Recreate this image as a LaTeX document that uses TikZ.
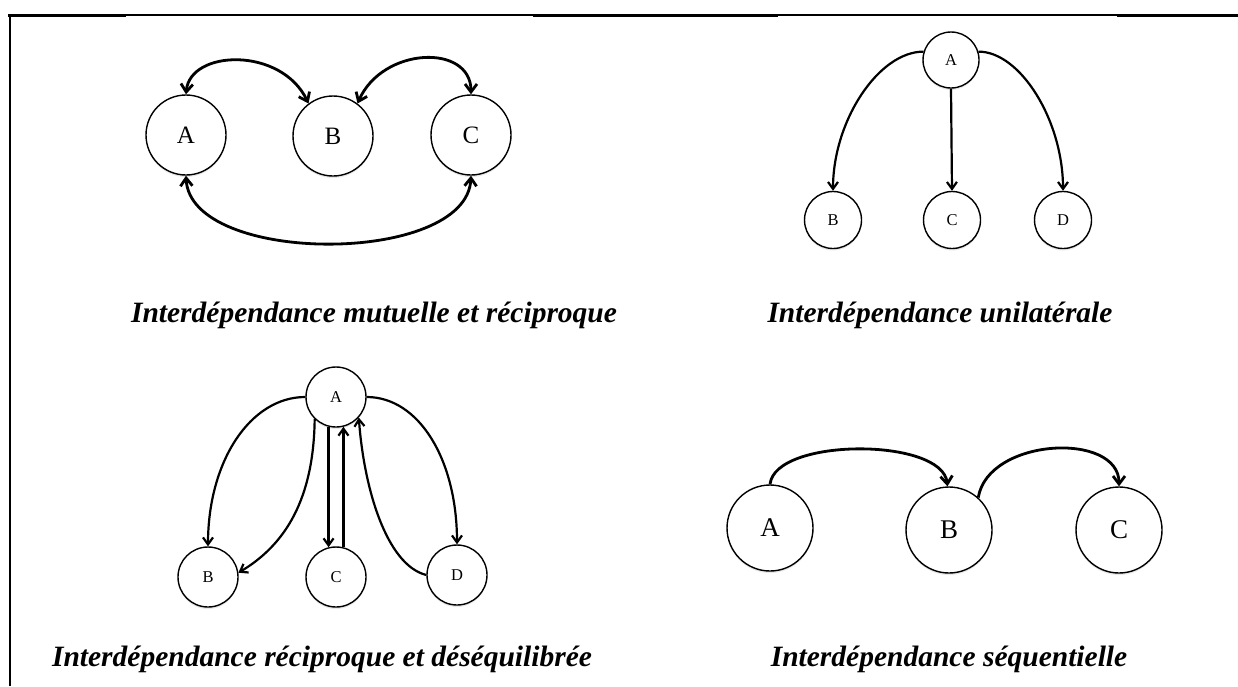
\documentclass[tikz,border=0pt]{standalone}
\usepackage{fontspec}
\setmainfont{Liberation Serif}
\usetikzlibrary{arrows.meta,shadows}
\tikzset{
  Lbarb/.tip={Straight Barb[length=8pt,width=12pt]},
  Sbarb/.tip={Straight Barb[length=7pt,width=10pt]},
}
\begin{document}
\begin{tikzpicture}[x=1pt,y=-1pt,
  circ/.style={circle,draw,fill=white,line width=1.4pt,inner sep=0pt,minimum size=#1,
    drop shadow={opacity=0.18,shadow xshift=0pt,shadow yshift=-2pt}},
  thickarc/.style={line width=2.8pt},
  thinarc/.style={line width=2.2pt},
  caption/.style={font=\fontsize{29.5}{34}\selectfont\bfseries\itshape,inner sep=0pt,anchor=base},
  rule/.style={line width=#1},
]
\useasboundingbox (0,0) rectangle (1238,686);

% frame lines
\coordinate (t0) at (8,15);
\coordinate (t1) at (126,15);
\coordinate (t2) at (533,15);
\coordinate (t3) at (778,15);
\coordinate (t4) at (1117,15);
\coordinate (t5) at (1238,15);
\coordinate (lt) at (10,14);
\coordinate (lb) at (10,686);
\draw[rule=3pt] (t0) -- (t1);
\draw[rule=1.6pt] (t1) -- (t2);
\draw[rule=3pt] (t2) -- (t3);
\draw[rule=1.6pt] (t3) -- (t4);
\draw[rule=3pt] (t4) -- (t5);
\draw[rule=2pt] (lt) -- (lb);

% ---------- panel 1: mutuelle et reciproque
\begin{scope}[every node/.append style={font=\fontsize{25}{28}\selectfont}]
\node[circ=80pt] (p1A) at (186,135) {A};
\node[circ=80pt] (p1B) at (333,136) {B};
\node[circ=80pt] (p1C) at (471,135) {C};
\end{scope}
\draw[thickarc,Lbarb-Lbarb] (p1A.90) .. controls +(4,-45) and +(-27,-57) .. (p1B.127);
\draw[thickarc,Lbarb-Lbarb] (p1B.53) .. controls +(25,-57) and +(0,-51) .. (p1C.90);
\draw[thickarc,Lbarb-Lbarb] (p1A.270) .. controls +(4,90) and +(-4,90) .. (p1C.270);
\node[caption] (cap1) at (374,322) {Interdépendance mutuelle et réciproque};

% ---------- panel 2: unilaterale
\begin{scope}[every node/.append style={font=\fontsize{16.5}{18}\selectfont}]
\node[circ=56pt] (p2A) at (951,60) {A};
\node[circ=57pt] (p2B) at (833,220) {B};
\node[circ=57pt] (p2C) at (952,220) {C};
\node[circ=57pt] (p2D) at (1063,220) {D};
\end{scope}
\draw[thinarc,-Sbarb] (p2A.163) .. controls +(-45,0) and +(0,-70) .. (p2B.90);
\draw[thinarc,-Sbarb] (p2A.270) -- (p2C.90);
\draw[thinarc,-Sbarb] (p2A.17) .. controls +(42,0) and +(0,-70) .. (p2D.90);
\node[caption] (cap2) at (940,322) {Interdépendance unilatérale};

% ---------- panel 3: reciproque et desequilibree
\begin{scope}[every node/.append style={font=\fontsize{16.5}{18}\selectfont}]
\node[circ=60pt] (p3A) at (336,397) {A};
\node[circ=60pt] (p3B) at (208,577) {B};
\node[circ=60pt] (p3C) at (336,577) {C};
\node[circ=60pt] (p3D) at (457,575) {D};
\end{scope}
\draw[thinarc,-Sbarb] (p3A.180) .. controls +(-55,0) and +(0,-85) .. (p3B.90);
\draw[thinarc,-Sbarb] (p3A.226) .. controls +(-1,80) and +(47,-28) .. (p3B.8);
\draw[thinarc,-Sbarb] (p3A.256) -- (p3C.104);
\draw[thinarc,-Sbarb] (p3C.76) -- (p3A.284);
\draw[thinarc,-Sbarb] (p3D.180) .. controls +(-40,-10) and +(5,70) .. (p3A.318);
\draw[thinarc,-Sbarb] (p3A.0) .. controls +(52,0) and +(0,-85) .. (p3D.90);
\node[caption] (cap3) at (322,666) {Interdépendance réciproque et déséquilibrée};

% ---------- panel 4: sequentielle
\begin{scope}[every node/.append style={font=\fontsize{27}{30}\selectfont}]
\node[circ=86pt] (p4A) at (770,528) {A};
\node[circ=86pt] (p4B) at (949,530) {B};
\node[circ=86pt] (p4C) at (1119,530) {C};
\end{scope}
\draw[thickarc,-Lbarb] (p4A.90) .. controls +(5,-47) and +(-5,-49) .. (p4B.92);
\draw[thickarc,-Lbarb] (p4B.48) .. controls +(10,-60) and +(0,-55) .. (p4C.90);
\node[caption] (cap4) at (949,666) {Interdépendance séquentielle};
\end{tikzpicture}
\end{document}
